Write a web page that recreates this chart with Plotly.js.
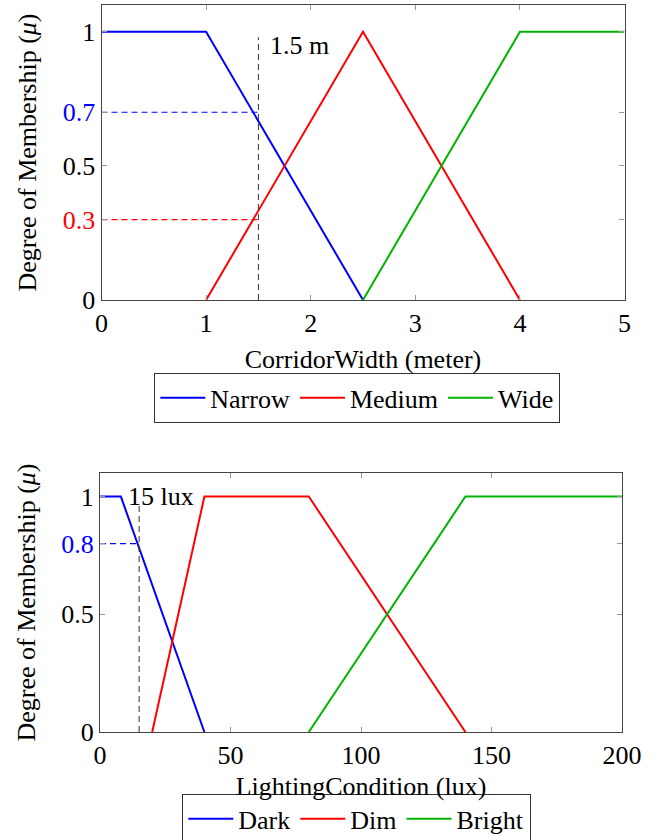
<!DOCTYPE html>
<html>
<head>
<meta charset="utf-8">
<script src="https://cdn.plot.ly/plotly-3.0.1.min.js"></script>
<style>
@font-face{font-family:'LSerif';src:local('Liberation Serif'),local('LiberationSerif'),local('LiberationSerif-Regular');font-style:normal;font-weight:400}
@font-face{font-family:'LSerif';src:local('Liberation Serif Italic'),local('LiberationSerif-Italic');font-style:italic;font-weight:400}
html,body{margin:0;padding:0;background:#fff;overflow:hidden;font-family:'Liberation Serif',serif}
#warm{position:absolute;left:0;top:0;font-size:26px;color:transparent;pointer-events:none}
</style>
</head>
<body>
<span id="warm" aria-hidden="true"><span style="font-family:'LSerif'">.</span><span style="font-family:'Liberation Serif'">.</span><i style="font-family:'Liberation Serif'">.</i></span>
<div id="chart" style="width:657px;height:860px"></div>
<script>
// ---- Corridor width membership functions ----
const narrowX = [0, 1, 2.5];
const narrowY = [1, 1, 0];
const mediumX = [1, 2.5, 4];
const mediumY = [0, 1, 0];
const wideX = [2.5, 4, 5];
const wideY = [0, 1, 1];
const widthInput = 1.5;
const widthNarrowMu = 0.7;
const widthMediumMu = 0.3;
const widthCutTop = 0.98;
const widthTickVals = [0, 0.3, 0.5, 0.7, 1];
const widthTickText = ['0', '<span style="color:#ff0000">0.3</span>', '0.5', '<span style="color:#0000ff">0.7</span>', '1'];
const widthXTicks = [0, 1, 2, 3, 4, 5];

// ---- Lighting condition membership functions ----
const darkX = [0, 8, 40];
const darkY = [1, 1, 0];
const dimX = [20, 40, 80, 140];
const dimY = [0, 1, 1, 0];
const brightX = [80, 140, 200];
const brightY = [0, 1, 1];
const luxInput = 15;
const luxDarkMu = 0.8;
const luxCutTop = 0.97;
const luxTickVals = [0, 0.5, 0.8, 1];
const luxTickText = ['0', '0.5', '<span style="color:#0000ff">0.8</span>', '1'];
const luxXTicks = [0, 50, 100, 150, 200];

const BLUE = '#0000ff', RED = '#ff0000', GREEN = '#00b400';
const SERIF = "'Liberation Serif', LSerif, 'Times New Roman', serif";
const PW = 657, PH = 860;

const traces = [
  {x: narrowX, y: narrowY, name: 'Narrow', mode: 'lines', line: {color: BLUE, width: 2}, xaxis: 'x', yaxis: 'y', legend: 'legend'},
  {x: mediumX, y: mediumY, name: 'Medium', mode: 'lines', line: {color: RED, width: 2}, xaxis: 'x', yaxis: 'y', legend: 'legend'},
  {x: wideX, y: wideY, name: 'Wide', mode: 'lines', line: {color: GREEN, width: 2}, xaxis: 'x', yaxis: 'y', legend: 'legend'},
  {x: [0, widthInput], y: [widthNarrowMu, widthNarrowMu], mode: 'lines', showlegend: false, line: {color: BLUE, width: 1.2, dash: '6px,4px'}, xaxis: 'x', yaxis: 'y'},
  {x: [0, widthInput], y: [widthMediumMu, widthMediumMu], mode: 'lines', showlegend: false, line: {color: RED, width: 1.2, dash: '6px,4px'}, xaxis: 'x', yaxis: 'y'},
  {x: [widthInput, widthInput], y: [0, widthCutTop], mode: 'lines', showlegend: false, line: {color: '#333', width: 1, dash: '6px,4px'}, xaxis: 'x', yaxis: 'y'},

  {x: darkX, y: darkY, name: 'Dark', mode: 'lines', line: {color: BLUE, width: 2}, xaxis: 'x2', yaxis: 'y2', legend: 'legend2'},
  {x: dimX, y: dimY, name: 'Dim', mode: 'lines', line: {color: RED, width: 2}, xaxis: 'x2', yaxis: 'y2', legend: 'legend2'},
  {x: brightX, y: brightY, name: 'Bright', mode: 'lines', line: {color: GREEN, width: 2}, xaxis: 'x2', yaxis: 'y2', legend: 'legend2'},
  {x: [0, luxInput], y: [luxDarkMu, luxDarkMu], mode: 'lines', showlegend: false, line: {color: BLUE, width: 1.2, dash: '6px,4px'}, xaxis: 'x2', yaxis: 'y2'},
  {x: [luxInput, luxInput], y: [0, luxCutTop], mode: 'lines', showlegend: false, line: {color: '#333', width: 1, dash: '6px,4px'}, xaxis: 'x2', yaxis: 'y2'}
];

function axisBase() {
  return {
    showgrid: false, zeroline: false, showline: true, linecolor: '#444', linewidth: 1.3,
    mirror: 'ticks', ticks: 'inside', ticklen: 5, tickcolor: '#999', tickwidth: 1,
    tickfont: {family: SERIF, size: 26, color: '#000'},
    fixedrange: true
  };
}

const layout = {
  width: PW, height: PH,
  margin: {l: 0, r: 0, t: 0, b: 0},
  paper_bgcolor: '#fff', plot_bgcolor: '#fff',
  font: {family: SERIF, size: 26, color: '#000'},
  xaxis: Object.assign(axisBase(), {
    domain: [101.5 / PW, 624.5 / PW], range: [0, 5], tickvals: widthXTicks, anchor: 'y',
    title: {text: 'CorridorWidth (meter)', font: {family: SERIF, size: 26, color: '#000'}, standoff: 12}
  }),
  yaxis: Object.assign(axisBase(), {
    domain: [1 - 300 / PH, 1 - 5 / PH], range: [0, 1.1], tickvals: widthTickVals, ticktext: widthTickText, anchor: 'x',
    title: {text: 'Degree of Membership (<i>μ</i>)', font: {family: SERIF, size: 26, color: '#000'}, standoff: 18}
  }),
  xaxis2: Object.assign(axisBase(), {
    domain: [100 / PW, 622 / PW], range: [0, 200], tickvals: luxXTicks, anchor: 'y2',
    title: {text: 'LightingCondition (lux)', font: {family: SERIF, size: 26, color: '#000'}, standoff: 7}
  }),
  yaxis2: Object.assign(axisBase(), {
    domain: [1 - 732 / PH, 1 - 473 / PH], range: [0, 1.1], tickvals: luxTickVals, ticktext: luxTickText, anchor: 'x2',
    title: {text: 'Degree of Membership (<i>μ</i>)', font: {family: SERIF, size: 26, color: '#000'}, standoff: 18}
  }),
  legend: {
    orientation: 'h', x: 154 / PW, y: 1 - 373 / PH, xanchor: 'left', yanchor: 'top',
    bordercolor: '#333', borderwidth: 1.3, bgcolor: '#fff',
    font: {family: SERIF, size: 26, color: '#000'}, itemwidth: 45, tracegroupgap: 0
  },
  legend2: {
    orientation: 'h', x: 182 / PW, y: 1 - 794 / PH, xanchor: 'left', yanchor: 'top',
    bordercolor: '#333', borderwidth: 1.3, bgcolor: '#fff',
    font: {family: SERIF, size: 26, color: '#000'}, itemwidth: 45, tracegroupgap: 0
  },
  annotations: [
    {xref: 'x', yref: 'y', x: 1.89, y: 0.95, text: '1.5 m', showarrow: false, font: {family: SERIF, size: 26, color: '#000'}},
    {xref: 'x2', yref: 'y2', x: 23.4, y: 1.0, text: '15 lux', showarrow: false, font: {family: SERIF, size: 26, color: '#000'}}
  ],
  showlegend: true
};

let drawn = false;
function once() {
  if (drawn) return;
  drawn = true;
  Plotly.newPlot('chart', traces, layout, {displayModeBar: false});
}
if (document.fonts && document.fonts.load) {
  Promise.all([
    document.fonts.load("26px LSerif"),
    document.fonts.load("italic 26px LSerif")
  ]).then(function () { requestAnimationFrame(once); }, once);
  setTimeout(once, 1000);
} else {
  once();
}
</script>
</body>
</html>
